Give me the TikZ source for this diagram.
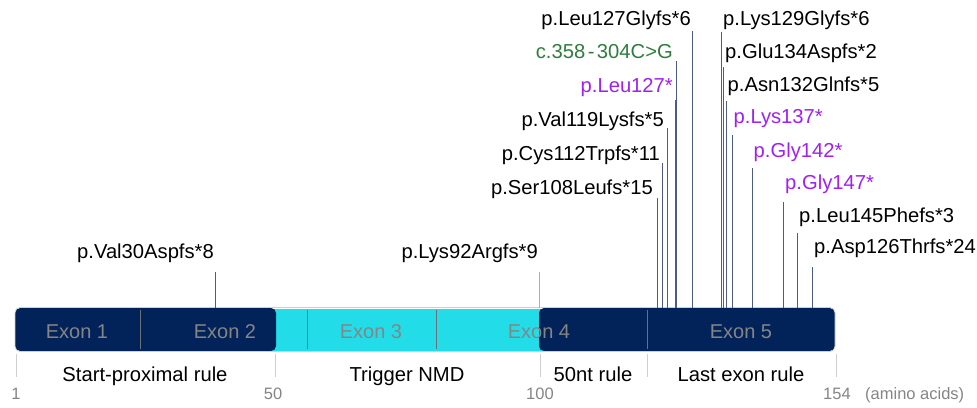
\documentclass[tikz,border=0pt]{standalone}
\usepackage{fontspec}
\setmainfont{Liberation Sans}
\definecolor{navy}{HTML}{02235A}
\definecolor{cyanbar}{HTML}{22DDE8}
\definecolor{mutline}{HTML}{4C5A8C}
\definecolor{lysline}{HTML}{40D8E6}
\definecolor{nonsense}{HTML}{A020F0}
\definecolor{splice}{HTML}{2E7D3E}
\definecolor{exongray}{HTML}{858585}
\definecolor{tickgray}{HTML}{CFCFCF}
\begin{document}
\begin{tikzpicture}[x=1pt,y=-1pt,
  lbl/.style={inner sep=0pt,font=\fontsize{20.2}{23}\selectfont},
  lblL/.style={lbl,anchor=base east},
  lblR/.style={lbl,anchor=base west},
  mut/.style={draw=mutline,line width=0.9pt},
  exonlbl/.style={inner sep=0pt,anchor=base,text=exongray,font=\fontsize{20}{23}\selectfont},
  rulelbl/.style={inner sep=0pt,anchor=base,font=\fontsize{20.2}{23}\selectfont},
  ticklbl/.style={inner sep=0pt,anchor=base,text=exongray,font=\fontsize{16.5}{19}\selectfont},
  tickline/.style={draw=tickgray,line width=0.9pt},
  divider/.style={draw=exongray!80!navy,line width=0.8pt}]
\useasboundingbox (0,0) rectangle (977,407);
% bar
\fill[cyanbar] (270,308.5) rectangle (545,350.5);
\fill[navy,rounded corners=5pt] (15,308) rectangle (276,351);
\fill[navy,rounded corners=5pt] (539,308) rectangle (835,351);
\draw[tickgray,line width=0.8pt,rounded corners=5pt] (15,307.5) rectangle (835,351.5);
\draw[divider] (140,310) -- (140,349);
\draw[divider] (307,310) -- (307,349);
\draw[divider] (436,310) -- (436,349);
\draw[divider] (647,310) -- (647,349);
\node[exonlbl] (e1) at (77,338) {Exon 1};
\node[exonlbl] (e2) at (225,338) {Exon 2};
\node[exonlbl] (e3) at (371,338) {Exon 3};
\node[exonlbl] (e4) at (539,338) {Exon 4};
\node[exonlbl] (e5) at (741,338) {Exon 5};
% ticks
\coordinate (t1a) at (16,354); \coordinate (t1b) at (16,377);
\coordinate (t2a) at (275,354); \coordinate (t2b) at (275,377);
\coordinate (t3a) at (540,354); \coordinate (t3b) at (540,377);
\coordinate (t4a) at (647,354); \coordinate (t4b) at (647,377);
\coordinate (t5a) at (836,354); \coordinate (t5b) at (836,377);
\draw[tickline] (t1a) -- (t1b);
\draw[tickline] (t2a) -- (t2b);
\draw[tickline] (t3a) -- (t3b);
\draw[tickline] (t4a) -- (t4b);
\draw[tickline] (t5a) -- (t5b);
\node[rulelbl] (r1) at (145,381) {Start-proximal rule};
\node[rulelbl] (r2) at (407,381) {Trigger NMD};
\node[rulelbl] (r3) at (593,381) {50nt rule};
\node[rulelbl] (r4) at (741,381) {Last exon rule};
\node[ticklbl] (n1) at (16,399) {1};
\node[ticklbl] (n50) at (273,399) {50};
\node[ticklbl] (n100) at (540,399) {100};
\node[ticklbl] (n154) at (837,399) {154};
\node[ticklbl,anchor=base west] (aa) at (865,399) {(amino acids)};
% mutations: left group
\coordinate (v30t) at (215,272); \coordinate (v30b) at (215,308);
\draw[mut] (v30t) -- (v30b);
\node[lblL] (v30) at (214,258) {p.Val30Aspfs*8};
\coordinate (k92t) at (539,272); \coordinate (k92b) at (539,308);
\draw[draw=lysline,line width=0.9pt] (k92t) -- (k92b);
\node[lblL] (k92) at (538,258) {p.Lys92Argfs*9};
\coordinate (s108t) at (657,198); \coordinate (s108b) at (657,308);
\draw[mut] (s108t) -- (s108b);
\node[lblL] (s108) at (653,194) {p.Ser108Leufs*15};
\coordinate (c112t) at (662,163); \coordinate (c112b) at (662,308);
\draw[mut] (c112t) -- (c112b);
\node[lblL] (c112) at (660,160) {p.Cys112Trpfs*11};
\coordinate (v119t) at (667,128); \coordinate (v119b) at (667,308);
\draw[mut] (v119t) -- (v119b);
\node[lblL] (v119) at (664,126) {p.Val119Lysfs*5};
\coordinate (l127st) at (675,100); \coordinate (l127sb) at (675,308);
\draw[mut] (l127st) -- (l127sb);
\node[lblL,text=nonsense] (l127s) at (673,92) {p.Leu127*};
\coordinate (c358t) at (676.5,61); \coordinate (c358b) at (676.5,308);
\draw[mut] (c358t) -- (c358b);
\node[lblL,text=splice] (c358) at (673,58) {c.358\kern2.5pt-\kern2.5pt304C>G};
\coordinate (l127gt) at (692,31); \coordinate (l127gb) at (692,308);
\draw[mut] (l127gt) -- (l127gb);
\node[lblL] (l127g) at (691,25) {p.Leu127Glyfs*6};
% right group
\coordinate (k129t) at (721,32); \coordinate (k129b) at (721,308);
\draw[mut] (k129t) -- (k129b);
\node[lblR] (k129) at (723,25) {p.Lys129Glyfs*6};
\coordinate (e134t) at (723.5,67); \coordinate (e134b) at (723.5,308);
\draw[mut] (e134t) -- (e134b);
\node[lblR] (e134) at (725,58) {p.Glu134Aspfs*2};
\coordinate (n132t) at (726,101); \coordinate (n132b) at (726,308);
\draw[mut] (n132t) -- (n132b);
\node[lblR] (n132) at (727.5,91) {p.Asn132Glnfs*5};
\coordinate (k137t) at (732,135); \coordinate (k137b) at (732,308);
\draw[mut] (k137t) -- (k137b);
\node[lblR,text=nonsense] (k137) at (733.5,123) {p.Lys137*};
\coordinate (g142t) at (752,168); \coordinate (g142b) at (752,308);
\draw[mut] (g142t) -- (g142b);
\node[lblR,text=nonsense] (g142) at (753.5,157) {p.Gly142*};
\coordinate (g147t) at (783,202); \coordinate (g147b) at (783,308);
\draw[mut] (g147t) -- (g147b);
\node[lblR,text=nonsense] (g147) at (785,189) {p.Gly147*};
\coordinate (l145t) at (797,233); \coordinate (l145b) at (797,308);
\draw[mut] (l145t) -- (l145b);
\node[lblR] (l145) at (799,222) {p.Leu145Phefs*3};
\coordinate (d126t) at (812,267); \coordinate (d126b) at (812,308);
\draw[mut] (d126t) -- (d126b);
\node[lblR] (d126) at (814,253) {p.Asp126Thrfs*24};
\end{tikzpicture}
\end{document}
